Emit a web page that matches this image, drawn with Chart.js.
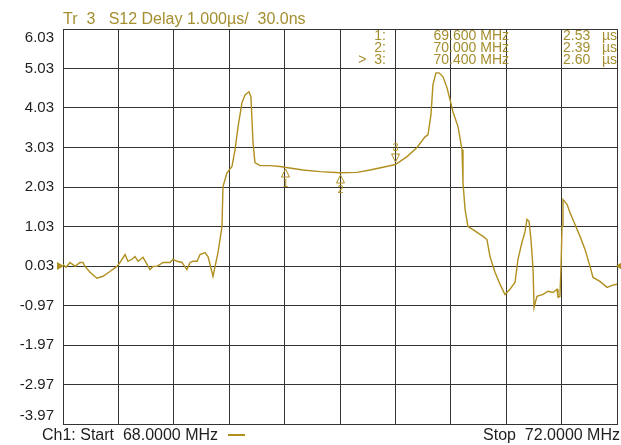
<!DOCTYPE html>
<html>
<head>
<meta charset="utf-8">
<script src="https://cdn.jsdelivr.net/npm/chart.js@4.4.1/dist/chart.umd.min.js"></script>
<style>
  html, body { margin: 0; padding: 0; background: #fff; }
</style>
</head>
<body>
<canvas id="c" width="621" height="445"></canvas>
<script>
// frequency (MHz) and group delay (µs)
const freqMHz = [
  68.000, 68.022, 68.051, 68.087, 68.123, 68.144, 68.159, 68.195, 68.245, 68.289,
  68.339, 68.390, 68.412, 68.448, 68.469, 68.498, 68.520, 68.542, 68.578, 68.628,
  68.650, 68.679, 68.722, 68.773, 68.794, 68.823, 68.859, 68.895, 68.917, 68.939,
  68.968, 68.989, 69.025, 69.047, 69.083, 69.119, 69.148, 69.155, 69.184, 69.220,
  69.242, 69.264, 69.292, 69.314, 69.343, 69.357, 69.372, 69.386, 69.422, 69.494,
  69.567, 69.600, 69.733, 69.856, 70.000, 70.123, 70.217, 70.310, 70.400, 70.484,
  70.556, 70.614, 70.635, 70.657, 70.671, 70.693, 70.715, 70.744, 70.773, 70.794,
  70.816, 70.852, 70.881, 70.888, 70.903, 70.924, 70.960, 71.011, 71.033, 71.061,
  71.083, 71.119, 71.155, 71.191, 71.227, 71.264, 71.285, 71.314, 71.336, 71.350,
  71.365, 71.379, 71.394, 71.401, 71.422, 71.466, 71.502, 71.538, 71.567, 71.574,
  71.588, 71.596, 71.603, 71.610, 71.639, 71.661, 71.697, 71.733, 71.769, 71.805,
  71.827, 71.877, 71.928, 71.964, 72.000
];
const delayUs = [
  0.07, 0.00, 0.12, 0.02, 0.12, 0.12, 0.02, -0.13, -0.28, -0.23,
  -0.11, 0.02, 0.12, 0.32, 0.15, 0.20, 0.27, 0.15, 0.25, -0.06,
  0.02, 0.02, 0.12, 0.12, 0.20, 0.15, 0.12, -0.06, 0.12, 0.15,
  0.15, 0.32, 0.37, 0.27, -0.23, 0.37, 1.03, 2.04, 2.39, 2.55,
  2.97, 3.56, 4.16, 4.36, 4.44, 4.31, 3.15, 2.65, 2.57, 2.57,
  2.55, 2.53, 2.46, 2.42, 2.39, 2.40, 2.46, 2.53, 2.60, 2.80,
  3.03, 3.30, 3.35, 3.86, 4.62, 4.92, 4.92, 4.82, 4.54, 4.24,
  3.93, 3.56, 2.97, 2.14, 1.46, 1.03, 0.95, 0.83, 0.78, 0.70,
  0.27, -0.13, -0.43, -0.69, -0.56, -0.38, 0.20, 0.63, 0.90, 1.21,
  1.16, 0.70, -0.06, -1.02, -0.74, -0.69, -0.61, -0.64, -0.56, -0.76,
  -0.74, 0.02, 1.03, 1.71, 1.59, 1.38, 1.08, 0.78, 0.45, 0.02,
  -0.26, -0.36, -0.51, -0.46, -0.43
];

// grid / tick labels
const yTicks = [-3.97, -2.97, -1.97, -0.97, 0.03, 1.03, 2.03, 3.03, 4.03, 5.03, 6.03];
const xTicks = [68.0, 68.4, 68.8, 69.2, 69.6, 70.0, 70.4, 70.8, 71.2, 71.6, 72.0];
const refLevel = 0.03;

// markers
const markerFreq = [69.6, 70.0, 70.4];
const markerValue = [2.53, 2.39, 2.60];
const markerFreqText = ["69.600 MHz", "70.000 MHz", "70.400 MHz"];
const markerValueText = ["2.53", "2.39", "2.60"];
const activeMarker = 2;

const headerText = "Tr  3   S12 Delay 1.000µs/  30.0ns";
const startText = "Ch1: Start  68.0000 MHz";
const stopText = "Stop  72.0000 MHz";

const traceColor = "#b08f1e";
const goldText = "#a48e2e";
const gridColor = "#333333";
const FONT = "'Liberation Sans', Arial, sans-serif";

const overlay = {
  id: "overlay",
  afterDatasetsDraw(chart) {
    const { ctx, chartArea: a, scales } = chart;
    const xs = scales.x, ys = scales.y;
    ctx.save();
    ctx.fillStyle = traceColor;
    ctx.strokeStyle = traceColor;

    // reference level arrows
    const ry = ys.getPixelForValue(refLevel);
    ctx.beginPath();
    ctx.moveTo(a.left - 6, ry - 4);
    ctx.lineTo(a.left + 1, ry);
    ctx.lineTo(a.left - 6, ry + 4);
    ctx.closePath();
    ctx.fill();
    ctx.beginPath();
    ctx.moveTo(a.right + 5, ry - 4);
    ctx.lineTo(a.right - 1, ry);
    ctx.lineTo(a.right + 5, ry + 4);
    ctx.closePath();
    ctx.fill();

    // marker symbols
    ctx.lineWidth = 1;
    ctx.font = "11px " + FONT;
    ctx.textAlign = "center";
    markerFreq.forEach((f, i) => {
      const px = Math.round(xs.getPixelForValue(f)) + 0.5;
      const py = Math.round(ys.getPixelForValue(markerValue[i]));
      ctx.beginPath();
      if (i === activeMarker) {
        ctx.moveTo(px - 4, py - 10);
        ctx.lineTo(px + 4, py - 10);
        ctx.lineTo(px, py - 2);
        ctx.closePath();
        ctx.stroke();
        ctx.textBaseline = "bottom";
        ctx.fillText(String(i + 1), px, py - 11);
      } else {
        ctx.moveTo(px, py + 2);
        ctx.lineTo(px + 4, py + 10);
        ctx.lineTo(px - 4, py + 10);
        ctx.closePath();
        ctx.stroke();
        ctx.textBaseline = "top";
        ctx.fillText(String(i + 1), px, py + 11);
      }
    });
    ctx.restore();
  },
  afterDraw(chart) {
    const { ctx, chartArea: a, scales } = chart;
    const ys = scales.y;
    ctx.save();
    ctx.textBaseline = "middle";

    // y tick labels, the end ones pulled inside the frame
    ctx.font = "15px " + FONT;
    ctx.fillStyle = "#1e1e1e";
    ctx.textAlign = "right";
    yTicks.forEach((v) => {
      let py = ys.getPixelForValue(v);
      py = Math.min(Math.max(py, a.top + 8.5), a.bottom - 8);
      ctx.fillText(v.toFixed(2), a.left - 9, py);
    });

    // header
    ctx.font = "16px " + FONT;
    ctx.fillStyle = goldText;
    ctx.textAlign = "left";
    ctx.fillText(headerText, a.left, 20);

    // marker table
    ctx.font = "14px " + FONT;
    markerFreq.forEach((f, i) => {
      const ty = 36 + i * 12;
      ctx.textAlign = "right";
      ctx.fillText((i === activeMarker ? ">  " : "") + (i + 1) + ":", 386, ty);
      ctx.fillText(markerFreqText[i], 509, ty);
      ctx.fillText("µs", 617, ty);
      ctx.textAlign = "left";
      ctx.fillText(markerValueText[i], 563, ty);
    });

    // footer
    ctx.font = "16px " + FONT;
    ctx.fillStyle = "#1e1e1e";
    ctx.textAlign = "left";
    ctx.fillText(startText, 42, 436);
    ctx.textAlign = "right";
    ctx.fillText(stopText, 620, 436);
    ctx.fillStyle = traceColor;
    ctx.fillRect(228, 434, 17, 2);
    ctx.restore();
  }
};

new Chart(document.getElementById("c"), {
  type: "line",
  data: {
    datasets: [{
      data: freqMHz.map((f, i) => ({ x: f, y: delayUs[i] })),
      borderColor: traceColor,
      borderWidth: 1.4,
      pointRadius: 0,
      tension: 0,
      fill: false
    }]
  },
  options: {
    responsive: false,
    animation: false,
    events: [],
    layout: { padding: { top: 29, right: 4, bottom: 21, left: 0 } },
    plugins: { legend: { display: false }, tooltip: { enabled: false }, title: { display: false } },
    scales: {
      x: {
        type: "linear",
        min: 68,
        max: 72,
        afterBuildTicks: (s) => { s.ticks = xTicks.map((v) => ({ value: v })); },
        afterFit: (s) => { s.height = 0; },
        ticks: { display: false },
        grid: { color: gridColor, lineWidth: 1, drawTicks: false },
        border: { color: gridColor, width: 1 }
      },
      y: {
        min: -3.97,
        max: 6.03,
        afterBuildTicks: (s) => { s.ticks = yTicks.map((v) => ({ value: v })); },
        afterFit: (s) => { s.width = 63; },
        ticks: { display: false },
        grid: { color: gridColor, lineWidth: 1, drawTicks: false },
        border: { color: gridColor, width: 1 }
      }
    }
  },
  plugins: [overlay]
});
</script>
</body>
</html>
